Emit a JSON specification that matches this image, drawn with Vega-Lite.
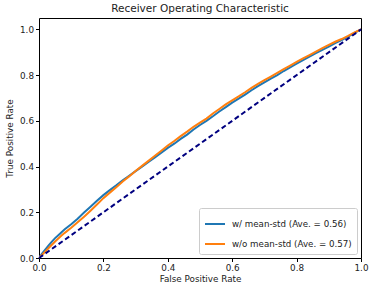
{
  "$schema": "https://vega.github.io/schema/vega-lite/v6.json",
  "width": 322,
  "height": 240,
  "autosize": {"type": "none"},
  "padding": {"left": 39, "top": 18, "right": 13, "bottom": 35},
  "background": "white",
  "config": {
    "font": "DejaVu Sans",
    "view": {"stroke": "#000000", "strokeWidth": 1},
    "axis": {
      "grid": false,
      "domain": false,
      "ticks": true,
      "tickColor": "#000000",
      "tickSize": 3.5,
      "labelFont": "DejaVu Sans",
      "labelFontSize": 8.8,
      "labelColor": "#222222",
      "titleFont": "DejaVu Sans",
      "titleFontSize": 8.8,
      "titleFontWeight": "normal",
      "titleColor": "#222222"
    }
  },
  "title": {
    "text": "Receiver Operating Characteristic",
    "font": "DejaVu Sans",
    "fontSize": 10.5,
    "fontWeight": "normal",
    "color": "#222222",
    "offset": 4
  },
  "datasets": {
    "roc": [
      {"fpr": 0, "tpr": 0, "series": "w/ mean-std (Ave. = 0.56)"},
      {"fpr": 0.01, "tpr": 0.02, "series": "w/ mean-std (Ave. = 0.56)"},
      {"fpr": 0.02, "tpr": 0.038, "series": "w/ mean-std (Ave. = 0.56)"},
      {"fpr": 0.03, "tpr": 0.055, "series": "w/ mean-std (Ave. = 0.56)"},
      {"fpr": 0.04, "tpr": 0.072, "series": "w/ mean-std (Ave. = 0.56)"},
      {"fpr": 0.05, "tpr": 0.087, "series": "w/ mean-std (Ave. = 0.56)"},
      {"fpr": 0.06, "tpr": 0.1, "series": "w/ mean-std (Ave. = 0.56)"},
      {"fpr": 0.07, "tpr": 0.113, "series": "w/ mean-std (Ave. = 0.56)"},
      {"fpr": 0.08, "tpr": 0.126, "series": "w/ mean-std (Ave. = 0.56)"},
      {"fpr": 0.10, "tpr": 0.148, "series": "w/ mean-std (Ave. = 0.56)"},
      {"fpr": 0.12, "tpr": 0.172, "series": "w/ mean-std (Ave. = 0.56)"},
      {"fpr": 0.14, "tpr": 0.199, "series": "w/ mean-std (Ave. = 0.56)"},
      {"fpr": 0.16, "tpr": 0.224, "series": "w/ mean-std (Ave. = 0.56)"},
      {"fpr": 0.18, "tpr": 0.25, "series": "w/ mean-std (Ave. = 0.56)"},
      {"fpr": 0.20, "tpr": 0.275, "series": "w/ mean-std (Ave. = 0.56)"},
      {"fpr": 0.22, "tpr": 0.297, "series": "w/ mean-std (Ave. = 0.56)"},
      {"fpr": 0.24, "tpr": 0.318, "series": "w/ mean-std (Ave. = 0.56)"},
      {"fpr": 0.26, "tpr": 0.34, "series": "w/ mean-std (Ave. = 0.56)"},
      {"fpr": 0.28, "tpr": 0.36, "series": "w/ mean-std (Ave. = 0.56)"},
      {"fpr": 0.30, "tpr": 0.38, "series": "w/ mean-std (Ave. = 0.56)"},
      {"fpr": 0.32, "tpr": 0.40, "series": "w/ mean-std (Ave. = 0.56)"},
      {"fpr": 0.34, "tpr": 0.42, "series": "w/ mean-std (Ave. = 0.56)"},
      {"fpr": 0.36, "tpr": 0.44, "series": "w/ mean-std (Ave. = 0.56)"},
      {"fpr": 0.38, "tpr": 0.461, "series": "w/ mean-std (Ave. = 0.56)"},
      {"fpr": 0.40, "tpr": 0.482, "series": "w/ mean-std (Ave. = 0.56)"},
      {"fpr": 0.42, "tpr": 0.50, "series": "w/ mean-std (Ave. = 0.56)"},
      {"fpr": 0.44, "tpr": 0.521, "series": "w/ mean-std (Ave. = 0.56)"},
      {"fpr": 0.46, "tpr": 0.54, "series": "w/ mean-std (Ave. = 0.56)"},
      {"fpr": 0.48, "tpr": 0.562, "series": "w/ mean-std (Ave. = 0.56)"},
      {"fpr": 0.50, "tpr": 0.582, "series": "w/ mean-std (Ave. = 0.56)"},
      {"fpr": 0.52, "tpr": 0.60, "series": "w/ mean-std (Ave. = 0.56)"},
      {"fpr": 0.54, "tpr": 0.62, "series": "w/ mean-std (Ave. = 0.56)"},
      {"fpr": 0.56, "tpr": 0.641, "series": "w/ mean-std (Ave. = 0.56)"},
      {"fpr": 0.58, "tpr": 0.66, "series": "w/ mean-std (Ave. = 0.56)"},
      {"fpr": 0.60, "tpr": 0.68, "series": "w/ mean-std (Ave. = 0.56)"},
      {"fpr": 0.62, "tpr": 0.697, "series": "w/ mean-std (Ave. = 0.56)"},
      {"fpr": 0.64, "tpr": 0.715, "series": "w/ mean-std (Ave. = 0.56)"},
      {"fpr": 0.66, "tpr": 0.734, "series": "w/ mean-std (Ave. = 0.56)"},
      {"fpr": 0.68, "tpr": 0.752, "series": "w/ mean-std (Ave. = 0.56)"},
      {"fpr": 0.70, "tpr": 0.768, "series": "w/ mean-std (Ave. = 0.56)"},
      {"fpr": 0.72, "tpr": 0.785, "series": "w/ mean-std (Ave. = 0.56)"},
      {"fpr": 0.74, "tpr": 0.80, "series": "w/ mean-std (Ave. = 0.56)"},
      {"fpr": 0.76, "tpr": 0.818, "series": "w/ mean-std (Ave. = 0.56)"},
      {"fpr": 0.78, "tpr": 0.834, "series": "w/ mean-std (Ave. = 0.56)"},
      {"fpr": 0.80, "tpr": 0.85, "series": "w/ mean-std (Ave. = 0.56)"},
      {"fpr": 0.82, "tpr": 0.866, "series": "w/ mean-std (Ave. = 0.56)"},
      {"fpr": 0.84, "tpr": 0.881, "series": "w/ mean-std (Ave. = 0.56)"},
      {"fpr": 0.86, "tpr": 0.896, "series": "w/ mean-std (Ave. = 0.56)"},
      {"fpr": 0.88, "tpr": 0.911, "series": "w/ mean-std (Ave. = 0.56)"},
      {"fpr": 0.90, "tpr": 0.925, "series": "w/ mean-std (Ave. = 0.56)"},
      {"fpr": 0.92, "tpr": 0.94, "series": "w/ mean-std (Ave. = 0.56)"},
      {"fpr": 0.94, "tpr": 0.953, "series": "w/ mean-std (Ave. = 0.56)"},
      {"fpr": 0.96, "tpr": 0.968, "series": "w/ mean-std (Ave. = 0.56)"},
      {"fpr": 0.98, "tpr": 0.985, "series": "w/ mean-std (Ave. = 0.56)"},
      {"fpr": 1.0, "tpr": 1.0, "series": "w/ mean-std (Ave. = 0.56)"},
      {"fpr": 0, "tpr": 0, "series": "w/o mean-std (Ave. = 0.57)"},
      {"fpr": 0.01, "tpr": 0.014, "series": "w/o mean-std (Ave. = 0.57)"},
      {"fpr": 0.02, "tpr": 0.029, "series": "w/o mean-std (Ave. = 0.57)"},
      {"fpr": 0.03, "tpr": 0.044, "series": "w/o mean-std (Ave. = 0.57)"},
      {"fpr": 0.04, "tpr": 0.058, "series": "w/o mean-std (Ave. = 0.57)"},
      {"fpr": 0.05, "tpr": 0.072, "series": "w/o mean-std (Ave. = 0.57)"},
      {"fpr": 0.06, "tpr": 0.085, "series": "w/o mean-std (Ave. = 0.57)"},
      {"fpr": 0.07, "tpr": 0.098, "series": "w/o mean-std (Ave. = 0.57)"},
      {"fpr": 0.08, "tpr": 0.11, "series": "w/o mean-std (Ave. = 0.57)"},
      {"fpr": 0.10, "tpr": 0.132, "series": "w/o mean-std (Ave. = 0.57)"},
      {"fpr": 0.12, "tpr": 0.156, "series": "w/o mean-std (Ave. = 0.57)"},
      {"fpr": 0.14, "tpr": 0.181, "series": "w/o mean-std (Ave. = 0.57)"},
      {"fpr": 0.16, "tpr": 0.207, "series": "w/o mean-std (Ave. = 0.57)"},
      {"fpr": 0.18, "tpr": 0.234, "series": "w/o mean-std (Ave. = 0.57)"},
      {"fpr": 0.20, "tpr": 0.262, "series": "w/o mean-std (Ave. = 0.57)"},
      {"fpr": 0.22, "tpr": 0.286, "series": "w/o mean-std (Ave. = 0.57)"},
      {"fpr": 0.24, "tpr": 0.31, "series": "w/o mean-std (Ave. = 0.57)"},
      {"fpr": 0.26, "tpr": 0.335, "series": "w/o mean-std (Ave. = 0.57)"},
      {"fpr": 0.28, "tpr": 0.357, "series": "w/o mean-std (Ave. = 0.57)"},
      {"fpr": 0.30, "tpr": 0.381, "series": "w/o mean-std (Ave. = 0.57)"},
      {"fpr": 0.32, "tpr": 0.403, "series": "w/o mean-std (Ave. = 0.57)"},
      {"fpr": 0.34, "tpr": 0.425, "series": "w/o mean-std (Ave. = 0.57)"},
      {"fpr": 0.36, "tpr": 0.447, "series": "w/o mean-std (Ave. = 0.57)"},
      {"fpr": 0.38, "tpr": 0.469, "series": "w/o mean-std (Ave. = 0.57)"},
      {"fpr": 0.40, "tpr": 0.492, "series": "w/o mean-std (Ave. = 0.57)"},
      {"fpr": 0.42, "tpr": 0.512, "series": "w/o mean-std (Ave. = 0.57)"},
      {"fpr": 0.44, "tpr": 0.533, "series": "w/o mean-std (Ave. = 0.57)"},
      {"fpr": 0.46, "tpr": 0.553, "series": "w/o mean-std (Ave. = 0.57)"},
      {"fpr": 0.48, "tpr": 0.574, "series": "w/o mean-std (Ave. = 0.57)"},
      {"fpr": 0.50, "tpr": 0.592, "series": "w/o mean-std (Ave. = 0.57)"},
      {"fpr": 0.52, "tpr": 0.61, "series": "w/o mean-std (Ave. = 0.57)"},
      {"fpr": 0.54, "tpr": 0.632, "series": "w/o mean-std (Ave. = 0.57)"},
      {"fpr": 0.56, "tpr": 0.652, "series": "w/o mean-std (Ave. = 0.57)"},
      {"fpr": 0.58, "tpr": 0.672, "series": "w/o mean-std (Ave. = 0.57)"},
      {"fpr": 0.60, "tpr": 0.69, "series": "w/o mean-std (Ave. = 0.57)"},
      {"fpr": 0.62, "tpr": 0.707, "series": "w/o mean-std (Ave. = 0.57)"},
      {"fpr": 0.64, "tpr": 0.725, "series": "w/o mean-std (Ave. = 0.57)"},
      {"fpr": 0.66, "tpr": 0.744, "series": "w/o mean-std (Ave. = 0.57)"},
      {"fpr": 0.68, "tpr": 0.762, "series": "w/o mean-std (Ave. = 0.57)"},
      {"fpr": 0.70, "tpr": 0.778, "series": "w/o mean-std (Ave. = 0.57)"},
      {"fpr": 0.72, "tpr": 0.794, "series": "w/o mean-std (Ave. = 0.57)"},
      {"fpr": 0.74, "tpr": 0.81, "series": "w/o mean-std (Ave. = 0.57)"},
      {"fpr": 0.76, "tpr": 0.826, "series": "w/o mean-std (Ave. = 0.57)"},
      {"fpr": 0.78, "tpr": 0.842, "series": "w/o mean-std (Ave. = 0.57)"},
      {"fpr": 0.80, "tpr": 0.858, "series": "w/o mean-std (Ave. = 0.57)"},
      {"fpr": 0.82, "tpr": 0.873, "series": "w/o mean-std (Ave. = 0.57)"},
      {"fpr": 0.84, "tpr": 0.888, "series": "w/o mean-std (Ave. = 0.57)"},
      {"fpr": 0.86, "tpr": 0.903, "series": "w/o mean-std (Ave. = 0.57)"},
      {"fpr": 0.88, "tpr": 0.918, "series": "w/o mean-std (Ave. = 0.57)"},
      {"fpr": 0.90, "tpr": 0.932, "series": "w/o mean-std (Ave. = 0.57)"},
      {"fpr": 0.92, "tpr": 0.946, "series": "w/o mean-std (Ave. = 0.57)"},
      {"fpr": 0.94, "tpr": 0.958, "series": "w/o mean-std (Ave. = 0.57)"},
      {"fpr": 0.96, "tpr": 0.972, "series": "w/o mean-std (Ave. = 0.57)"},
      {"fpr": 0.98, "tpr": 0.987, "series": "w/o mean-std (Ave. = 0.57)"},
      {"fpr": 1.0, "tpr": 1.0, "series": "w/o mean-std (Ave. = 0.57)"}
    ],
    "diag": [
      {"fpr": 0, "tpr": 0},
      {"fpr": 1, "tpr": 1}
    ]
  },
  "layer": [
    {
      "data": {"name": "roc"},
      "mark": {"type": "line", "strokeWidth": 2, "clip": true},
      "encoding": {
        "x": {
          "field": "fpr", "type": "quantitative",
          "scale": {"domain": [0, 1], "nice": false, "zero": false},
          "axis": {"title": "False Positive Rate", "values": [0, 0.2, 0.4, 0.6, 0.8, 1.0], "format": ".1f", "labelPadding": 2, "titlePadding": 2, "labelFlush": false}
        },
        "y": {
          "field": "tpr", "type": "quantitative",
          "scale": {"domain": [0, 1.05], "nice": false, "zero": false},
          "axis": {"title": "True Positive Rate", "values": [0, 0.2, 0.4, 0.6, 0.8, 1.0], "format": ".1f", "labelPadding": 2, "titlePadding": 5, "labelFlush": false}
        },
        "color": {
          "field": "series", "type": "nominal",
          "scale": {"domain": ["w/ mean-std (Ave. = 0.56)", "w/o mean-std (Ave. = 0.57)"], "range": ["#1f77b4", "#ff7f0e"]},
          "legend": {
            "title": null,
            "orient": "bottom-right",
            "offset": 4,
            "padding": 5,
            "rowPadding": 4,
            "strokeColor": "#cccccc",
            "fillColor": "white",
            "cornerRadius": 2,
            "symbolType": "stroke",
            "symbolStrokeWidth": 2,
            "symbolSize": 400,
            "labelOffset": 6,
            "labelFont": "DejaVu Sans",
            "labelFontSize": 8.7,
            "labelColor": "#222222",
            "labelLimit": 300
          }
        },
        "order": {"field": "fpr", "type": "quantitative"}
      }
    },
    {
      "data": {"name": "diag"},
      "mark": {"type": "line", "color": "#000080", "strokeWidth": 2, "strokeDash": [5, 3]},
      "encoding": {
        "x": {"field": "fpr", "type": "quantitative"},
        "y": {"field": "tpr", "type": "quantitative"}
      }
    }
  ]
}
